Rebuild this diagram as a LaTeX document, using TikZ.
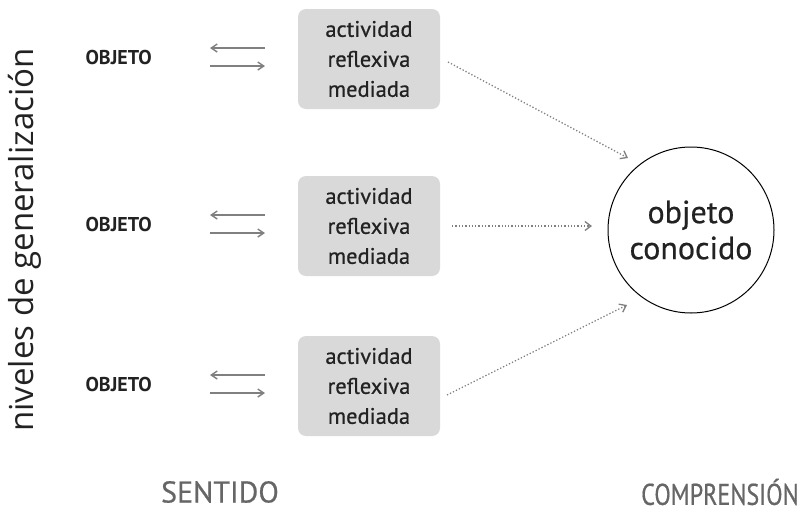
\documentclass[tikz,border=0pt]{standalone}
\usepackage{fontspec}
\setmainfont{PT Sans}
\newfontfamily\vertfont{Open Sans}
\newfontfamily\medfont[FakeBold=0.6]{PT Sans}
\usetikzlibrary{arrows.meta}
\definecolor{boxgray}{HTML}{D9D9D9}
\definecolor{txtdark}{HTML}{222222}
\definecolor{arrgray}{HTML}{808080}
\definecolor{labgray}{HTML}{666666}
\tikzset{
  actbox/.style={fill=boxgray, rounded corners=8pt, minimum width=142pt, minimum height=100pt,
    align=center, text=txtdark, font=\medfont\fontsize{22.5}{30}\selectfont, inner sep=0pt},
  objlabel/.style={font=\fontsize{20}{24}\selectfont\bfseries, text=txtdark, anchor=west},
  pairarrow/.style={draw=arrgray, line width=1.4pt, -{Straight Barb[length=6pt,width=8pt]}},
  dotarrow/.style={draw=arrgray, line width=1.3pt, dotted, -{Straight Barb[length=6pt,width=9pt]}},
  biglabel/.style={font=\medfont\fontsize{30}{34}\selectfont, text=labgray},
}
\begin{document}
\begin{tikzpicture}[x=1pt,y=-1pt]
\useasboundingbox (0,0) rectangle (801,512);
% vertical label
\node[rotate=90, font=\vertfont\fontsize{33}{38}\selectfont, text=txtdark] (lev) at (25,240) {niveles de generalización};
% rows
\foreach \i/\y in {1/59, 2/226, 3/386} {
  \node[objlabel] (o\i) at (82,\y-2) {OBJETO};
  \coordinate (la\i) at (265,\y-11);
  \coordinate (lb\i) at (210,\y-11);
  \coordinate (ra\i) at (210,\y+7);
  \coordinate (rb\i) at (265,\y+7);
  \draw[pairarrow] (la\i) -- (lb\i);
  \draw[pairarrow] (ra\i) -- (rb\i);
  \node[actbox] (b\i) at (369,\y) {actividad\\reflexiva\\mediada};
}
% circle
\node[circle, draw=black, line width=1pt, minimum size=166pt, inner sep=0pt, align=center,
      font=\medfont\fontsize{32}{36}\selectfont, text=txtdark] (c) at (691,230) {objeto\\conocido};
% dotted arrows
\coordinate (s1) at (448,62);
\coordinate (e1) at (628,158);
\coordinate (s2) at (452,226);
\coordinate (e2) at (592,226);
\coordinate (s3) at (447,395);
\coordinate (e3) at (627,305);
\draw[dotarrow] (s1) -- (e1);
\draw[dotarrow] (s2) -- (e2);
\draw[dotarrow] (s3) -- (e3);
% bottom labels
\node[biglabel] (sent) at (220,492) {SENTIDO};
\node[biglabel, xscale=0.8] (comp) at (720,492) {COMPRENSIÓN};
\end{tikzpicture}
\end{document}
